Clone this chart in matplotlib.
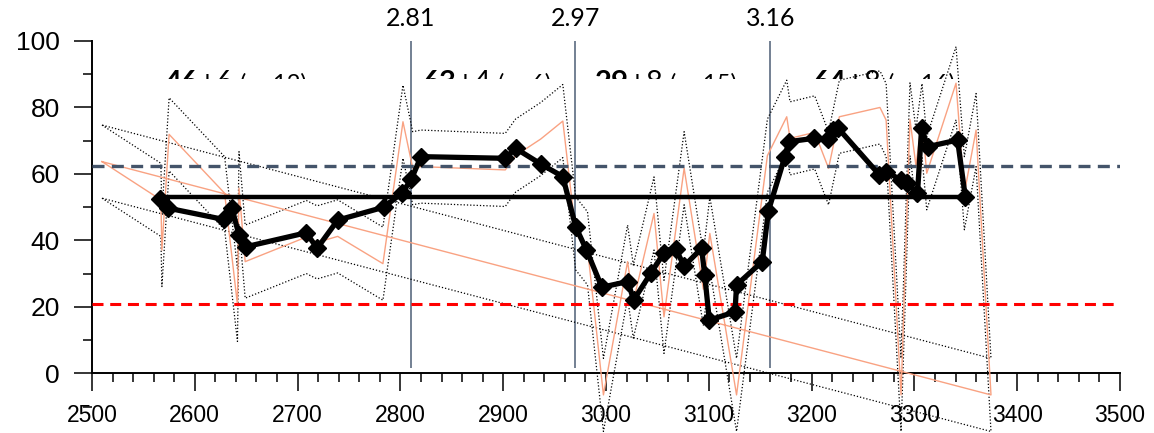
import matplotlib
matplotlib.use("Agg")
import matplotlib.pyplot as plt
import numpy as np
from matplotlib.transforms import Bbox, TransformedBbox
from matplotlib.ticker import MultipleLocator

# ---- data -------------------------------------------------------------
depth = [2566.5, 2574, 2628, 2636, 2643, 2650, 2708.5, 2719, 2739, 2784, 2802,
         2810.6, 2820, 2902, 2912, 2936.5, 2958, 2970.5, 2981, 2996, 3021, 3027,
         3044, 3056, 3068, 3076, 3093, 3096, 3100.5, 3125.5, 3127, 3152, 3158,
         3174, 3178, 3202, 3216, 3221, 3226, 3266, 3272, 3287, 3293, 3303, 3307,
         3313, 3342, 3349.5]
smoothed = [52.4, 49.7, 46.3, 49.8, 41.6, 38.1, 42.3, 37.6, 46.1, 50.0, 54.4,
            58.4, 65.2, 64.7, 67.7, 63.0, 59.2, 44.1, 37.1, 25.9, 27.6, 22.1,
            30.3, 36.1, 37.3, 32.3, 37.6, 29.6, 16.0, 18.5, 26.6, 33.6, 48.9,
            65.2, 69.7, 70.7, 70.4, 73.2, 73.7, 59.7, 60.7, 58.2, 57.2, 54.2, 73.7,
            68.2, 70.2, 53.1]

ind_x = [2509.7, 2567, 2568, 2575, 2629, 2641.5, 2643, 2649, 2708.5, 2719, 2739,
         2783, 2802.5, 2812, 2820, 2902, 2912, 2936.5, 2958, 2970.5, 2982, 2997.5,
         3021, 3026.6, 3046.7, 3056.4, 3076, 3094.7, 3101, 3127, 3157, 3175.8,
         3179, 3203, 3216.5, 3227, 3266.5, 3272.5, 3287, 3295.7, 3301.5, 3307.4,
         3312, 3340.5, 3348.6, 3360, 3374.5]
ind_y = [63.7, 52.2, 37.1, 71.9, 54.2, 20.6, 55.7, 33.6, 41.0, 39.4, 41.2, 33.0,
         75.7, 61.7, 62.2, 61.2, 65.5, 70.5, 75.9, 42.1, 37.6, -6.5, 33.6, 21.6,
         48.1, 17.0, 61.7, 25.3, 42.1, -6.5, 65.5, 77.2, 70.7, 72.5, 61.7, 77.2,
         80.0, 76.2, -6.5, 76.4, 62.5, 76.2, 60.2, 87.3, 54.2, 73.2, -6.5]
upper_y = [74.7, 63.2, 48.1, 82.9, 65.2, 31.6, 66.7, 44.6, 52.0, 50.4, 52.2, 44.0,
           86.7, 72.7, 73.2, 72.2, 76.5, 81.5, 86.9, 53.1, 48.6, 4.5, 44.6, 32.6,
           59.1, 28.0, 72.7, 36.3, 53.1, 4.5, 76.5, 88.2, 81.7, 83.5, 72.7, 88.2,
           91.0, 87.2, 4.5, 87.4, 73.5, 87.2, 71.2, 98.3, 65.2, 84.2, 4.5]
lower_y = [52.7, 41.2, 26.1, 60.9, 43.2, 9.6, 44.7, 22.6, 30.0, 28.4, 30.2, 22.0,
           64.7, 50.7, 51.2, 50.2, 54.5, 59.5, 64.9, 31.1, 26.6, -17.5, 22.6, 10.6,
           37.1, 6.0, 50.7, 14.3, 31.1, -17.5, 54.5, 66.2, 59.7, 61.5, 50.7, 66.2,
           69.0, 65.2, -17.5, 65.4, 51.5, 65.2, 49.2, 76.3, 43.2, 62.2, -17.5]

overall_mean = 53.1
upper_ref = 62.4
lower_ref = 20.8

breaks = [2810, 2970, 3160]
break_labels = ["2.81", "2.97", "3.16"]

seg_mean = ["46", "63", "29", "64"]
seg_sd = ["\u00b16", "\u00b14", "\u00b18", "\u00b18"]
seg_n = ["(n=12)", "(n=6)", "(n=15)", "(n=16)"]
seg_x = [2571, 2822, 2989, 3201]

# ---- figure -----------------------------------------------------------
W, H = 1154, 433
fig = plt.figure(figsize=(W / 100, H / 100), dpi=100)
y_top_px, y0_px = 41.0, 373.3
ppu = (y0_px - y_top_px) / 100.0
ymin = -20
bottom_px = y0_px + (-ymin) * ppu
ax = fig.add_axes([92 / W, (H - bottom_px) / H, 1028 / W, (bottom_px - y_top_px) / H])
ax.set_xlim(2500, 3500)
ax.set_ylim(ymin, 100)
ax.patch.set_alpha(0)

for s in ["top", "right"]:
    ax.spines[s].set_visible(False)
ax.spines["left"].set_bounds(0, 100)
ax.spines["bottom"].set_position(("data", 0))
ax.spines["left"].set_linewidth(1.4)
ax.spines["bottom"].set_linewidth(1.4)

ax.xaxis.set_major_locator(MultipleLocator(100))
ax.xaxis.set_minor_locator(MultipleLocator(20))
ax.yaxis.set_minor_locator(MultipleLocator(10))
ax.set_yticks([0, 20, 40, 60, 80, 100])
ax.tick_params(axis="both", which="major", direction="out", length=13, width=1.1, color="black")
ax.tick_params(axis="both", which="minor", direction="out", length=6.5, width=1.1, color="black")
ax.tick_params(axis="y", which="major", pad=10, labelsize=19)
ax.tick_params(axis="x", which="major", pad=9, labelsize=16.5)
for lab in ax.get_xticklabels() + ax.get_yticklabels():
    lab.set_fontfamily("Liberation Sans")

# individual values and band (closed loop as in the original)
def closed(v):
    return list(v) + [v[0]]

ax.plot(closed(ind_x), closed(upper_y), color="black", lw=0.9, ls=(0, (1, 1.6)), zorder=2, clip_on=False)
ax.plot(closed(ind_x), closed(lower_y), color="black", lw=0.9, ls=(0, (1, 1.6)), zorder=2, clip_on=False)
ax.plot(closed(ind_x), closed(ind_y), color="#F9A282", lw=1.0, zorder=3, clip_on=False)

# reference lines
ax.axhline(upper_ref, color="#44546A", lw=2.4, ls=(0, (3.6, 2.2)), zorder=4)
ax.axhline(lower_ref, color="#FF0000", lw=2.2, ls=(0, (3.6, 2.2)), zorder=4)
ax.hlines(overall_mean, depth[0], depth[-1], color="black", lw=3.2, zorder=4)

# break lines
ax.vlines(breaks, 1.5, 100, color="#5B6B80", lw=1.2, zorder=1)
for bx, bl in zip(breaks, break_labels):
    ax.text(bx, 106.9, bl, ha="center", va="center", fontsize=18,
            family="Lato", clip_on=False)

# smoothed series
ax.plot(depth, smoothed, color="black", lw=3.8, marker="D", ms=9.5,
        markeredgecolor="black", zorder=6)

# segment labels, clipped at the top of the plot like the original
fig.canvas.draw()
renderer = fig.canvas.get_renderer()
clip_y = (y0_px - 79) / ppu
clipbox = TransformedBbox(Bbox([[2400, clip_y], [3600, 140]]), ax.transData)
base_y = 85.0
for sx, m, sd, n in zip(seg_x, seg_mean, seg_sd, seg_n):
    t1 = ax.text(sx, base_y, m, fontsize=21, fontweight="bold", family="Lato",
                 va="baseline", ha="left", clip_on=True)
    t1.set_clip_box(clipbox)
    fig.canvas.draw()
    bb = t1.get_window_extent(renderer)
    x2 = ax.transData.inverted().transform((bb.x1, 0))[0]
    t2 = ax.text(x2, base_y, sd + " ", fontsize=21, family="Lato",
                 va="baseline", ha="left", clip_on=True)
    t2.set_clip_box(clipbox)
    fig.canvas.draw()
    bb = t2.get_window_extent(renderer)
    x3 = ax.transData.inverted().transform((bb.x1, 0))[0]
    t3 = ax.text(x3, base_y, n, fontsize=17, family="Lato",
                 va="baseline", ha="left", clip_on=True)
    t3.set_clip_box(clipbox)

fig.savefig("out.png", dpi=100)
